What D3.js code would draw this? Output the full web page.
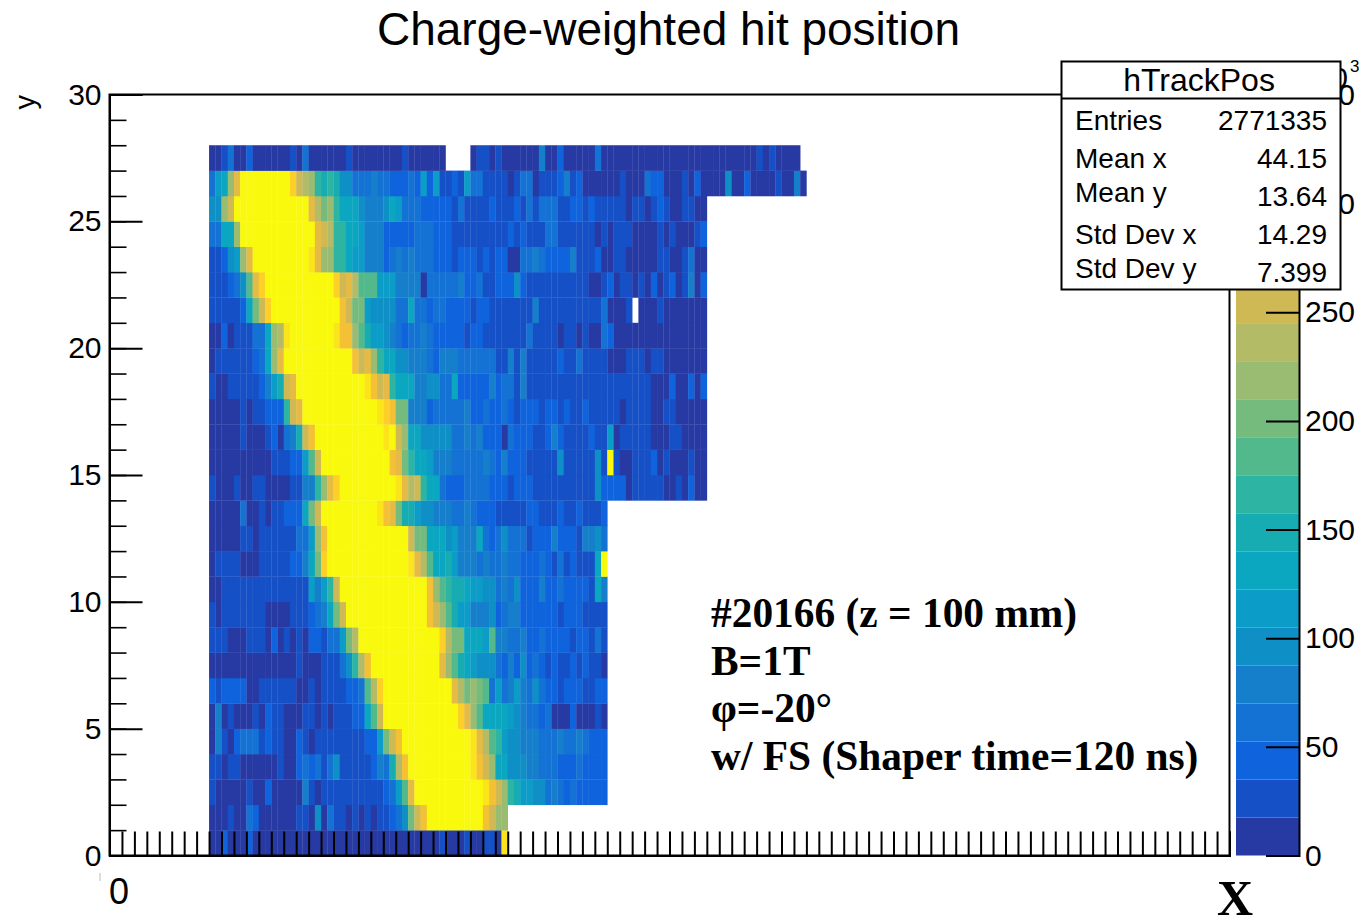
<!DOCTYPE html>
<html>
<head>
<meta charset="utf-8">
<title>Charge-weighted hit position</title>
<script src="https://cdn.jsdelivr.net/npm/d3@7"></script>
<style>
body { margin: 0; background: #fff; }
text { font-family: "Liberation Sans", sans-serif; fill: #000; }
.note { font-family: "Liberation Serif", serif; font-weight: bold; }
</style>
</head>
<body>
<div id="chart"></div>
<script>
// colour bands of the palette, bottom to top
const bandColors = ["#273aa4", "#1650c6", "#0f63dc", "#1372d3", "#167fcc", "#0e8fc6", "#0b9cc7", "#0ba6c0",
  "#17abb2", "#2db4a2", "#52b98c", "#75bb7e", "#9abb72", "#b4bb66", "#cfb955", "#e6bb45",
  "#f4c136", "#fdd027", "#fbe41a", "#f9f90e"];
const zTicks = [0, 50, 100, 150, 200, 250, 300, 350];
const yMajor = [0, 5, 10, 15, 20, 25, 30];

// first filled x bin, and the counts of each row (in 10^3)
const firstBin = 16;
const row0 = [9,9,44,9,9,9,44,9,9,9,9,9,9,9,9,9,9,9,9,9,9,9,9,9,9,9,9,9,9,9,9,9,9,9,9,9,9,26,9,9,9,26,9,9,26,26,9,324];
const row1 = [9,9,9,26,9,9,61,44,9,9,9,9,9,9,26,26,9,96,9,61,26,26,9,26,9,26,9,26,26,44,61,96,201,254,289,345,345,345,345,345,345,345,345,345,289,254,219,219];
const row2 = [26,9,9,9,9,9,26,9,9,44,9,9,9,9,9,79,26,9,26,26,26,26,26,26,26,26,26,26,44,61,114,184,271,345,345,345,345,345,345,345,345,345,345,345,324,289,254,219,166,149,114,114,96,96,61,79,61,44,61,44,44,44,44,44];
const row3 = [26,26,9,26,26,9,9,9,9,9,9,26,9,9,44,61,44,61,26,61,96,26,26,26,26,26,44,79,61,149,236,289,345,345,345,345,345,345,345,345,345,345,324,289,254,219,131,131,96,96,96,79,79,61,61,61,44,44,44,61,44,44,44,44];
const row4 = [9,79,26,9,44,61,61,61,26,44,26,26,9,9,44,26,9,26,26,26,26,26,26,26,26,44,44,114,201,254,289,345,345,345,345,345,345,345,345,345,345,345,324,271,236,184,166,114,96,96,79,79,79,61,61,61,79,61,61,79,61,44,44,44];
const row5 = [9,79,9,26,9,9,9,26,9,44,26,26,9,9,9,26,26,9,26,9,26,26,26,44,44,131,184,254,345,345,345,345,345,345,345,345,345,345,345,345,306,271,219,184,131,131,131,131,114,96,79,61,61,44,61,9,9,9,44,9,9,9,26,9];
const row6 = [44,26,44,44,44,44,9,9,26,26,26,26,26,26,9,9,26,9,26,26,26,26,44,44,61,184,236,306,345,345,345,345,345,345,345,345,345,345,345,271,236,201,219,201,184,61,114,61,79,114,79,61,96,61,44,44,26,44,44,44,26,26,44,44];
const row7 = [9,9,9,9,9,9,9,9,9,9,9,9,9,9,26,9,9,9,26,26,26,61,96,166,236,289,345,345,345,345,345,345,345,345,345,345,345,271,219,184,149,131,114,96,96,96,61,44,79,44,96,44,61,44,26,44,26,26,44,26,44,26,26,9];
const row8 = [26,26,26,9,9,9,26,26,26,9,44,9,26,9,26,9,44,44,26,61,61,114,201,236,345,345,345,345,345,345,345,345,345,345,345,345,345,306,236,201,201,131,131,131,114,184,79,79,61,61,79,44,44,61,44,44,44,44,26,44,44,26,61,26];
const row9 = [26,9,26,26,26,26,26,26,26,9,9,9,9,26,26,26,44,61,79,131,201,254,345,345,345,345,345,345,345,345,345,345,345,345,345,289,254,219,184,149,114,114,79,79,79,96,44,61,79,79,44,44,44,44,44,44,26,44,44,44,26,26,26,26];
const row10 = [9,9,26,26,26,26,26,26,26,26,26,26,26,26,26,26,114,79,114,166,254,345,345,345,345,345,345,345,345,345,345,345,345,345,345,289,219,184,166,149,149,131,114,114,96,96,61,79,61,96,44,44,44,79,44,44,61,44,44,44,44,26,131,79];
const row11 = [9,26,26,26,26,9,9,9,26,26,26,26,26,44,44,79,131,201,306,345,345,345,345,345,345,345,345,345,345,345,345,345,324,271,236,184,131,131,149,114,79,79,79,61,79,61,61,79,61,61,44,44,44,61,44,26,61,26,44,26,26,26,131,345];
const row12 = [9,9,9,9,9,26,26,9,26,26,26,26,26,26,61,61,114,219,289,345,345,345,345,345,345,345,345,345,345,345,345,345,254,201,201,131,131,131,96,114,79,79,79,131,61,44,61,96,61,61,61,26,44,44,44,79,44,44,44,26,79,79,96,61];
const row13 = [9,9,9,9,9,61,9,9,26,9,26,26,44,44,44,131,201,254,345,345,345,345,345,345,345,345,345,324,289,271,201,149,149,114,96,96,79,79,79,61,61,79,61,44,44,44,26,26,26,26,26,44,44,26,26,26,44,26,26,44,26,26,26,44];
const row14 = [26,9,9,9,26,9,9,26,26,9,9,9,9,26,26,79,79,166,219,271,306,345,345,345,345,345,345,345,345,345,324,271,236,254,166,131,131,61,44,44,44,61,61,61,61,44,44,44,26,44,44,44,26,26,26,26,26,26,26,26,26,26,96,44,44,44,44,9,26,26,26,26,26,9,9,26,9,44,9,9];
const row15 = [9,9,9,9,9,9,9,9,9,9,26,26,26,44,44,114,184,254,345,345,345,345,345,345,345,345,345,345,345,289,271,201,166,131,131,114,79,79,79,61,61,61,61,61,79,61,44,79,44,44,44,26,26,26,26,26,96,26,26,26,26,26,96,26,345,26,9,9,26,26,26,44,9,26,9,9,9,26,9,9];
const row16 = [9,9,9,9,9,26,9,9,9,26,44,9,61,79,149,254,289,345,345,345,345,345,345,345,345,345,345,345,324,345,254,219,131,131,96,96,96,96,96,61,61,79,61,79,44,44,44,9,61,44,44,44,26,26,44,79,44,26,26,26,26,44,26,26,114,9,26,26,26,26,26,9,9,9,26,26,9,9,9,9];
const row17 = [9,9,9,9,9,26,9,26,26,44,44,44,166,254,271,345,345,345,345,345,345,345,345,345,345,345,345,324,306,289,201,201,79,79,79,44,61,61,61,61,61,79,44,44,61,44,44,61,44,26,44,44,44,26,44,44,26,44,26,26,44,26,26,26,26,26,9,26,26,26,26,9,9,26,26,9,9,9,9,9];
const row18 = [26,9,9,26,26,26,26,26,44,79,114,149,254,271,345,345,345,345,345,345,345,345,345,345,345,324,289,254,271,166,131,131,131,79,79,96,96,61,61,131,44,44,44,44,44,79,44,61,61,26,79,26,26,26,26,26,26,26,26,26,26,26,26,26,26,26,26,26,26,26,26,9,9,9,44,9,9,44,9,44];
const row19 = [9,26,26,26,26,26,26,44,61,131,219,271,345,345,345,345,345,345,345,345,345,345,345,289,254,271,219,166,131,131,96,96,79,79,79,61,44,79,79,79,61,61,61,61,61,61,26,26,79,26,79,26,26,26,26,26,44,26,26,61,26,26,26,26,9,9,9,26,26,26,9,26,26,9,9,9,9,9,9,9];
const row20 = [9,9,44,9,26,26,26,61,61,131,219,236,324,345,345,345,345,345,345,345,324,289,289,219,184,149,114,114,96,79,61,44,61,61,79,61,44,44,44,44,44,26,44,44,26,26,26,26,26,26,26,61,26,26,26,26,9,26,26,9,26,9,9,61,44,9,9,9,9,9,9,9,9,9,9,9,9,9,9,9];
const row21 = [26,26,26,26,26,44,131,201,254,306,345,345,345,345,345,345,345,345,345,345,345,289,254,201,201,114,96,96,96,96,61,61,131,61,61,44,61,61,44,44,44,44,26,44,44,26,26,26,26,26,26,26,79,26,26,26,26,26,26,26,26,26,26,61,9,9,9,26,null,9,9,9,26,9,9,9,9,9,9,9];
const row22 = [26,26,26,44,61,96,184,271,306,345,345,345,345,345,345,345,345,345,345,345,306,254,271,236,184,184,184,114,114,114,79,79,79,79,9,61,61,61,61,61,79,44,44,61,26,26,44,44,44,96,44,26,26,26,26,26,26,26,26,26,26,9,9,26,44,9,26,26,9,26,9,44,9,26,44,9,26,79,9,44];
const row23 = [26,26,44,96,114,219,271,345,345,345,345,345,345,345,345,345,324,271,219,219,166,166,131,114,114,79,79,79,44,61,79,61,79,61,61,61,44,44,44,26,44,44,44,26,44,26,44,44,9,9,61,61,79,61,44,44,44,44,79,26,26,26,44,9,9,26,26,9,9,9,9,9,26,26,9,9,26,61,9,9];
const row24 = [61,61,131,131,219,345,345,345,345,345,345,345,345,345,345,345,345,271,254,236,166,166,131,131,114,79,79,79,44,44,44,44,44,61,61,61,44,44,44,26,26,26,26,26,26,26,26,26,44,26,44,26,26,26,61,61,26,26,26,26,26,26,9,26,9,26,26,26,9,9,9,9,26,9,26,9,9,9,26,44];
const row25 = [96,96,219,254,345,345,345,345,345,345,345,345,345,345,345,345,271,236,201,219,166,131,131,131,96,79,79,79,96,131,114,61,61,61,44,44,44,44,44,26,61,26,26,26,26,44,26,26,26,44,26,61,26,61,61,61,26,26,44,44,26,44,26,26,26,26,26,9,26,26,9,26,44,26,9,9,26,26,9,9];
const row26 = [61,114,131,219,271,345,345,345,345,345,345,345,345,306,254,236,219,166,149,166,149,96,96,61,61,61,79,61,61,44,44,44,61,44,114,44,114,26,26,44,26,114,61,61,26,26,26,26,9,26,61,61,9,26,26,26,44,79,26,44,9,9,9,9,9,9,26,9,9,9,61,44,44,9,9,9,26,9,44,9,9,9,9,96,9,9,44,9,9,9,9,26,9,9,79,9];
const row27 = [9,9,26,61,9,9,44,9,9,9,9,9,9,26,9,61,9,9,9,9,9,9,26,9,9,9,9,9,9,9,9,26,9,9,9,9,9,9,null,null,null,null,9,26,26,9,26,9,9,9,9,9,9,79,9,9,44,9,9,9,9,9,61,9,9,9,9,9,9,9,9,9,9,9,9,9,9,9,9,9,9,9,9,9,9,9,9,9,26,9,26,9,9,9,9];
const rows = [row0,row1,row2,row3,row4,row5,row6,row7,row8,row9,row10,row11,row12,row13,row14,row15,row16,row17,row18,row19,row20,row21,row22,row23,row24,row25,row26,row27];

const statName = ["Entries", "Mean x", "Mean y", "Std Dev x", "Std Dev y"];
const statValue = ["2771335", "44.15", "13.64", "14.29", "7.399"];
const noteLines = ["#20166 (z = 100 mm)", "B=1T", "φ=-20°", "w/ FS (Shaper time=120 ns)"];

const width = 1359, height = 919;
const svg = d3.select("#chart").append("svg")
  .attr("width", width).attr("height", height)
  .style("display", "block");

const x = d3.scaleLinear().domain([0, 180]).range([109.5, 1229.5]);
const y = d3.scaleLinear().domain([0, 30]).range([855.5, 94.5]);
const z = d3.scaleLinear().domain([0, 350]).range([855.5, 95]);
const color = d3.scaleQuantize().domain([0, 350]).range(bandColors);

// the cells
const cells = [];
rows.forEach(function(values, r) {
  values.forEach(function(v, i) {
    if (v !== null) cells.push({ bx: firstBin + i, by: r, v: v });
  });
});
svg.append("g").selectAll("rect")
  .data(cells)
  .enter().append("rect")
  .attr("x", d => x(d.bx))
  .attr("y", d => y(d.by + 1))
  .attr("width", d => x(d.bx + 1) - x(d.bx) + 0.3)
  .attr("height", d => y(d.by) - y(d.by + 1) + 0.3)
  .attr("fill", d => color(d.v));

// frame
svg.append("rect")
  .attr("x", x(0)).attr("y", y(30))
  .attr("width", x(180) - x(0)).attr("height", y(0) - y(30))
  .attr("fill", "none").attr("stroke", "#000").attr("stroke-width", 2);

// axes
function styleAxis(g, w) {
  g.selectAll("path").attr("stroke", "#000").attr("stroke-width", 2);
  g.selectAll("line").attr("stroke", "#000").attr("stroke-width", w);
  g.selectAll("text").style("font-size", "30px").attr("fill", "#000");
}
const xAxis = svg.append("g")
  .attr("transform", "translate(0," + y(0) + ")")
  .call(d3.axisBottom(x).tickValues(d3.range(0, 181, 2)).tickSize(-24).tickFormat(""));
styleAxis(xAxis, 2);
const yMinor = svg.append("g")
  .attr("transform", "translate(" + x(0) + ",0)")
  .call(d3.axisLeft(y).tickValues(d3.range(0, 31)).tickSize(-17).tickFormat(""));
styleAxis(yMinor, 1.6);
const yAxis = svg.append("g")
  .attr("transform", "translate(" + x(0) + ",0)")
  .call(d3.axisLeft(y).tickValues(yMajor).tickSize(-33).tickPadding(8).tickFormat(d3.format("d")));
styleAxis(yAxis, 2);

svg.append("text").attr("x", x(0) + 9.5).attr("y", 904)
  .attr("text-anchor", "middle").style("font-size", "36px").text("0");
svg.append("line").attr("x1", 100).attr("x2", 100).attr("y1", 873).attr("y2", 881)
  .attr("stroke", "#bbb").attr("stroke-width", 1);
svg.append("text").attr("x", 1235).attr("y", 915)
  .attr("class", "note").attr("text-anchor", "middle").style("font-size", "50px").text("X");
svg.append("text").attr("transform", "translate(35,95) rotate(-90)")
  .attr("text-anchor", "end").style("font-size", "29px").text("y");
svg.append("text").attr("x", 668.5).attr("y", 45)
  .attr("text-anchor", "middle").style("font-size", "46px").text("Charge-weighted hit position");

// palette
svg.append("g").selectAll("rect")
  .data(bandColors)
  .enter().append("rect")
  .attr("x", 1236).attr("width", 63)
  .attr("y", d => z(color.invertExtent(d)[1]))
  .attr("height", d => z(color.invertExtent(d)[0]) - z(color.invertExtent(d)[1]))
  .attr("fill", d => d);
const zAxis = svg.append("g")
  .attr("transform", "translate(1299,0)")
  .call(d3.axisRight(z).tickValues(zTicks).tickSize(-33).tickPadding(6).tickFormat(d3.format("d")));
styleAxis(zAxis, 2);
svg.append("text").attr("x", 1348).attr("y", 88)
  .attr("text-anchor", "end").style("font-size", "30px").text("×10");
svg.append("text").attr("x", 1350).attr("y", 72).style("font-size", "17px").text("3");

// text on the pad
svg.append("g").selectAll("text")
  .data(noteLines)
  .enter().append("text")
  .attr("class", "note")
  .attr("x", 711)
  .attr("y", (d, i) => 627 + i * 47.7)
  .style("font-size", "41.4px")
  .text(d => d);

// stats box
const box = svg.append("g");
box.append("rect").attr("x", 1061.5).attr("y", 61.5).attr("width", 279).attr("height", 228)
  .attr("fill", "#fff").attr("stroke", "#000").attr("stroke-width", 2);
box.append("line").attr("x1", 1061.5).attr("x2", 1340.5).attr("y1", 98.5).attr("y2", 98.5)
  .attr("stroke", "#000").attr("stroke-width", 2);
box.append("text").attr("x", 1199).attr("y", 91)
  .attr("text-anchor", "middle").style("font-size", "32px").text("hTrackPos");
const nameY = [130, 168, 202, 244, 278];
const valueY = [130, 168, 206, 244, 282];
box.selectAll("text.name")
  .data(statName)
  .enter().append("text").attr("class", "name")
  .attr("x", 1075).attr("y", (d, i) => nameY[i])
  .style("font-size", "28px").text(d => d);
box.selectAll("text.value")
  .data(statValue)
  .enter().append("text").attr("class", "value")
  .attr("x", 1327).attr("y", (d, i) => valueY[i])
  .attr("text-anchor", "end").style("font-size", "28px").text(d => d);
</script>
</body>
</html>
